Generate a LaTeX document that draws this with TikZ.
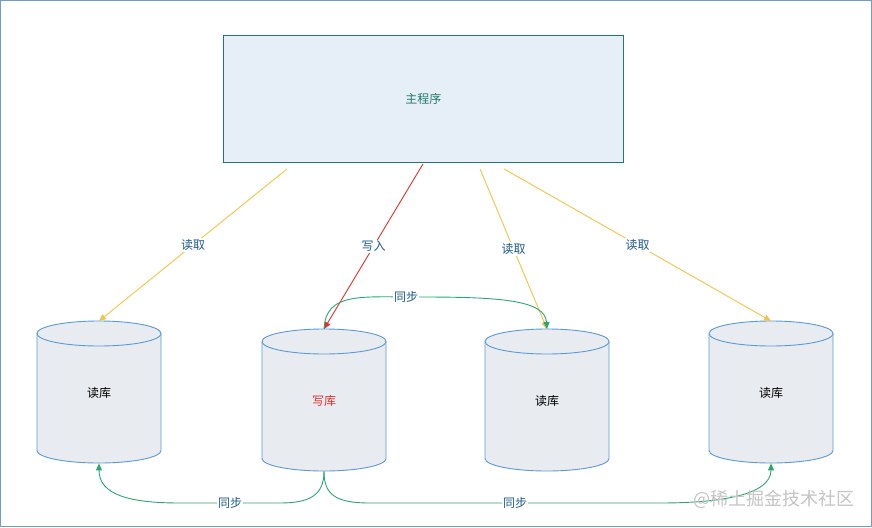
\documentclass[tikz,border=0pt]{standalone}
\usepackage{fontspec}
\newfontfamily\cjk{Noto Sans CJK SC}
\usetikzlibrary{arrows.meta,calc}
\definecolor{framecol}{HTML}{6F9CCB}
\definecolor{boxfill}{HTML}{E6EEF7}
\definecolor{boxline}{HTML}{1E7B6C}
\definecolor{cylfill}{HTML}{E8EBF0}
\definecolor{cylline}{HTML}{5B9BD5}
\definecolor{ylw}{HTML}{F5C445}
\definecolor{redc}{HTML}{E5312B}
\definecolor{grn}{HTML}{2BA772}
\definecolor{labc}{HTML}{1F5B8A}
\definecolor{wm}{HTML}{C4C4C4}
\tikzset{
  lab/.style={fill=white,inner sep=1pt,text=labc,font=\cjk\fontsize{12}{14}\selectfont},
  cyltext/.style={font=\cjk\fontsize{12}{14}\selectfont,inner sep=0pt},
  rd/.style={draw=ylw,line width=0.9pt,-{Triangle[length=7pt,width=6pt]}},
  wr/.style={draw=redc,line width=0.9pt,-{Triangle[length=7pt,width=6pt]}},
  sy/.style={draw=grn,line width=0.9pt,-{Triangle[length=7pt,width=6pt]}},
}
\newcommand\dbcyl[6]{% name, cx, top, bottom, text, text colour
  \fill[cylfill] (#2-62,#3+12.5) -- (#2-62,#4-12.5)
     arc[start angle=180,end angle=0,x radius=62,y radius=12.5]
     -- (#2+62,#3+12.5)
     arc[start angle=0,end angle=-180,x radius=62,y radius=12.5] -- cycle;
  \draw[cylline,line width=0.9pt] (#2-62,#3+12.5) -- (#2-62,#4-12.5)
     arc[start angle=180,end angle=0,x radius=62,y radius=12.5]
     -- (#2+62,#3+12.5);
  \draw[cylline,line width=0.9pt] (#2,#3+12.5) ellipse[x radius=62,y radius=12.5];
  \node[cyltext,minimum width=124pt,minimum height={#4-#3},anchor=north] (#1) at (#2,#3) {};
  \node[cyltext,text=#6] at (#2,{(#3+#4)/2+1}) {#5};
}
\begin{document}
\begin{tikzpicture}[x=1pt,y=-1pt]
\useasboundingbox (0,0) rectangle (872,527);
\draw[framecol,fill=white,line width=1.2pt] (0.6,0.6) rectangle (871.4,526.4);

\node[draw=boxline,fill=boxfill,line width=0.9pt,minimum width=400pt,minimum height=127pt,inner sep=0pt,anchor=north west,text=boxline,font=\cjk\fontsize{12}{14}\selectfont] (main) at (223,35) {主程序};

\dbcyl{r1}{99}{321}{463}{读库}{black}
\dbcyl{w}{324}{329}{471}{写库}{redc}
\dbcyl{r2}{547}{329}{471}{读库}{black}
\dbcyl{r4}{771}{321}{463}{读库}{black}

\coordinate (s1) at ($(main.south west)+(64,6)$);
\coordinate (s2) at ($(main.south west)+(200,1)$);
\coordinate (s3) at ($(main.south west)+(257,6)$);
\coordinate (s4) at ($(main.south west)+(281,6)$);

\draw[rd] (s1) -- node[lab,pos=0.5]{读取} (r1.north);
\draw[wr] (s2) -- node[lab,pos=0.5]{写入} (w.north);
\draw[rd] (s3) -- node[lab,pos=0.5]{读取} (r2.north);
\draw[rd] (s4) -- node[lab,pos=0.5]{读取} (r4.north);

\draw[sy] (w.north) .. controls (326,292) and (360,297) .. (420,297)
   .. controls (500,297) and (545,300) .. (r2.north);
\node[lab] at (406,297) {同步};

\draw[sy] (w.south) .. controls (324,495) and (310,503) .. (280,503)
   -- node[lab]{同步} (180,503) .. controls (130,503) and (99,495) .. (r1.south);
\draw[sy] (w.south) .. controls (324,495) and (336,503) .. (370,503)
   -- node[lab]{同步} (660,503) .. controls (720,503) and (771,495) .. (r4.south);

\node[text=wm,font=\cjk\fontsize{18}{20}\selectfont,inner sep=0pt] (wmk) at (774,499) {@稀土掘金技术社区};
\end{tikzpicture}
\end{document}
